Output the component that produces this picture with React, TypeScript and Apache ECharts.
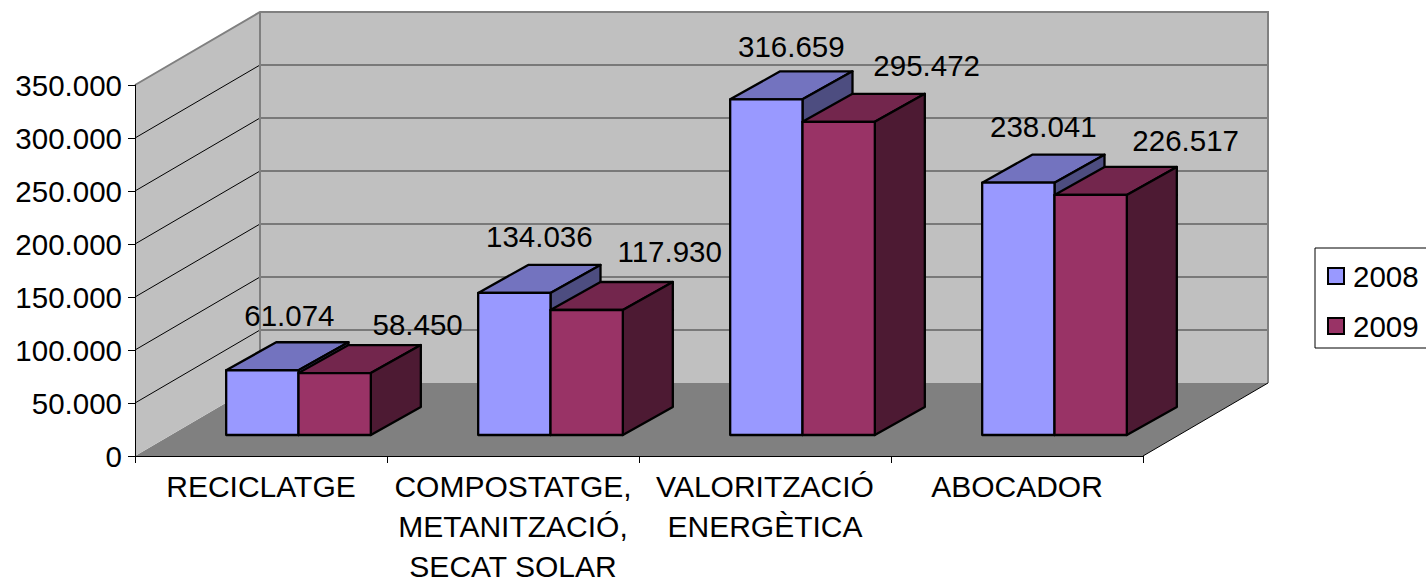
import React, { useEffect, useRef } from "react";
import * as echarts from "echarts";

const categories = [
  "RECICLATGE",
  "COMPOSTATGE,\nMETANITZACIÓ,\nSECAT SOLAR",
  "VALORITZACIÓ\nENERGÈTICA",
  "ABOCADOR",
];
const values2008 = [61074, 134036, 316659, 238041];
const values2009 = [58450, 117930, 295472, 226517];
const yTicks = [0, 50000, 100000, 150000, 200000, 250000, 300000, 350000];

const FONT = "'Liberation Sans', Arial, sans-serif";
const FONT_SIZE = 29.5;
const WALL_DX = 125;
const WALL_DY = -73;
const BAR_SHIFT_X = 37.5;
const BAR_SHIFT_Y = -21;
const BAR_DX = 50;
const BAR_DY = -28;
const LABEL_NUDGE_2008 = [[2, -2], [0, -3], [0, 0], [0, -3]];
const LABEL_NUDGE_2009 = [[-4, 3], [-4, -6], [1, -4], [8, -2]];

const fmt = (v: number) => String(v).replace(/\B(?=(\d{3})+$)/g, ".");

function wallsRender(_params: any, api: any) {
  const [x0, y0] = api.coord([0, 0]);
  const band = api.size([1, 0])[0];
  const x1 = x0 - band / 2;
  const x2 = x1 + band * categories.length;
  const yb = y0;
  const yt = api.coord([0, 350000])[1];
  const children: any[] = [
    {
      type: "polygon",
      shape: { points: [[x1, yb], [x1 + WALL_DX, yb + WALL_DY], [x2 + WALL_DX, yb + WALL_DY], [x2, yb]] },
      style: { fill: "#808080" },
    },
    {
      type: "polygon",
      shape: { points: [[x1, yt], [x1 + WALL_DX, yt + WALL_DY], [x1 + WALL_DX, yb + WALL_DY], [x1, yb]] },
      style: { fill: "#C0C0C0" },
    },
    {
      type: "polygon",
      shape: { points: [[x1 + WALL_DX, yt + WALL_DY], [x2 + WALL_DX, yt + WALL_DY], [x2 + WALL_DX, yb + WALL_DY], [x1 + WALL_DX, yb + WALL_DY]] },
      style: { fill: "#C0C0C0" },
    },
  ];
  yTicks.slice(1, -1).forEach((t) => {
    const y = api.coord([0, t])[1];
    children.push({
      type: "line",
      shape: { x1, y1: y, x2: x1 + WALL_DX, y2: y + WALL_DY },
      style: { stroke: "#000", lineWidth: 1 },
    });
    children.push({
      type: "line",
      shape: { x1: x1 + WALL_DX, y1: y + WALL_DY, x2: x2 + WALL_DX, y2: y + WALL_DY },
      style: { stroke: "#333", lineWidth: 1.2 },
    });
  });
  children.push({
    type: "polyline",
    shape: { points: [[x1, yt], [x1 + WALL_DX, yt + WALL_DY], [x2 + WALL_DX, yt + WALL_DY], [x2 + WALL_DX, yb + WALL_DY]] },
    style: { stroke: "#808080", lineWidth: 2, fill: "none" },
  });
  children.push({
    type: "line",
    shape: { x1: x1 + WALL_DX, y1: yt + WALL_DY, x2: x1 + WALL_DX, y2: yb + WALL_DY },
    style: { stroke: "#808080", lineWidth: 2 },
  });
  children.push({
    type: "line",
    shape: { x1: x2, y1: yb, x2: x2 + WALL_DX, y2: yb + WALL_DY },
    style: { stroke: "#000", lineWidth: 1 },
  });
  return { type: "group", children };
}

function barRender(
  seriesIndex: number,
  colors: { front: string; top: string; side: string },
  labelDx: number,
  labelDy: number,
  nudges: number[][]
) {
  return (_params: any, api: any) => {
    const cat = api.value(0);
    const val = api.value(1);
    const band = api.size([1, 0])[0];
    const w = band * 0.287;
    const base = api.coord([cat, 0]);
    const top = api.coord([cat, val]);
    const xl = base[0] + BAR_SHIFT_X + (seriesIndex === 0 ? -w : 0);
    const xr = xl + w;
    const yb = base[1] + BAR_SHIFT_Y;
    const yt = top[1] + BAR_SHIFT_Y;
    const stroke = { stroke: "#000", lineWidth: 2.3, lineJoin: "round" };
    return {
      type: "group",
      children: [
        {
          type: "polygon",
          shape: { points: [[xl, yt], [xl + BAR_DX, yt + BAR_DY], [xr + BAR_DX, yt + BAR_DY], [xr, yt]] },
          style: { fill: colors.top, ...stroke },
        },
        {
          type: "polygon",
          shape: { points: [[xr, yt], [xr + BAR_DX, yt + BAR_DY], [xr + BAR_DX, yb + BAR_DY], [xr, yb]] },
          style: { fill: colors.side, ...stroke },
        },
        {
          type: "polygon",
          shape: { points: [[xl, yt], [xr, yt], [xr, yb], [xl, yb]] },
          style: { fill: colors.front, ...stroke },
        },
        {
          type: "text",
          x: (xl + xr) / 2 + labelDx + nudges[cat][0],
          y: yt + BAR_DY + labelDy + nudges[cat][1],
          style: {
            text: fmt(val),
            fontFamily: FONT,
            fontSize: FONT_SIZE,
            fill: "#000",
            align: "center",
            verticalAlign: "middle",
          },
        },
      ],
    };
  };
}

export default function App() {
  const ref = useRef<HTMLDivElement>(null);
  useEffect(() => {
    const chart = echarts.init(ref.current!, undefined, { renderer: "svg" });
    chart.setOption({
      animation: false,
      backgroundColor: "#fff",
      grid: { left: 135, top: 85, width: 1008, height: 371, containLabel: false, outerBoundsMode: "none" },
      legend: {
        data: ["2008", "2009"],
        orient: "vertical",
        left: 1315,
        top: 248,
        padding: [13, 12, 7, 12],
        itemWidth: 16,
        itemHeight: 16,
        itemGap: 20,
        icon: "rect",
        selectedMode: false,
        borderColor: "#000",
        borderWidth: 1,
        textStyle: {
          fontFamily: FONT,
          fontSize: FONT_SIZE,
          color: "#000",
          lineHeight: 30,
          padding: [0, 0, 0, 4],
        },
      },
      xAxis: {
        type: "category",
        data: categories,
        z: 6,
        axisLine: { lineStyle: { color: "#000", width: 1 } },
        axisTick: { show: true, length: 7, alignWithLabel: false, lineStyle: { color: "#000" } },
        axisLabel: {
          interval: 0,
          fontFamily: FONT,
          fontSize: 30,
          color: "#000",
          lineHeight: 40,
          margin: 10,
        },
        splitLine: { show: false },
      },
      yAxis: {
        type: "value",
        min: 0,
        max: 350000,
        interval: 50000,
        z: 6,
        axisLine: { show: true, lineStyle: { color: "#000", width: 1 } },
        axisTick: { show: true, length: 7, lineStyle: { color: "#000" } },
        axisLabel: {
          fontFamily: FONT,
          fontSize: FONT_SIZE,
          color: "#000",
          margin: 13,
          formatter: (v: number) => fmt(v),
        },
        splitLine: { show: false },
      },
      series: [
        {
          type: "custom",
          name: "walls",
          z: 1,
          silent: true,
          data: [[0, 0]],
          encode: { x: 0, y: 1 },
          renderItem: wallsRender,
        },
        {
          type: "custom",
          name: "2008",
          z: 2,
          silent: true,
          itemStyle: { color: "#9999FF", borderColor: "#000", borderWidth: 2 },
          data: values2008.map((v, i) => [i, v]),
          encode: { x: 0, y: 1 },
          renderItem: barRender(0, { front: "#9999FF", top: "#7373BF", side: "#4D4D80" }, 25, -25, LABEL_NUDGE_2008),
        },
        {
          type: "custom",
          name: "2009",
          z: 3,
          silent: true,
          itemStyle: { color: "#993366", borderColor: "#000", borderWidth: 2 },
          data: values2009.map((v, i) => [i, v]),
          encode: { x: 0, y: 1 },
          renderItem: barRender(1, { front: "#993366", top: "#73264D", side: "#4D1A33" }, 87, -24, LABEL_NUDGE_2009),
        },
      ],
    });
    return () => chart.dispose();
  }, []);
  return (
    <div
      ref={ref}
      style={{ position: "fixed", left: 0, top: 0, width: 1426, height: 582 }}
    />
  );
}
